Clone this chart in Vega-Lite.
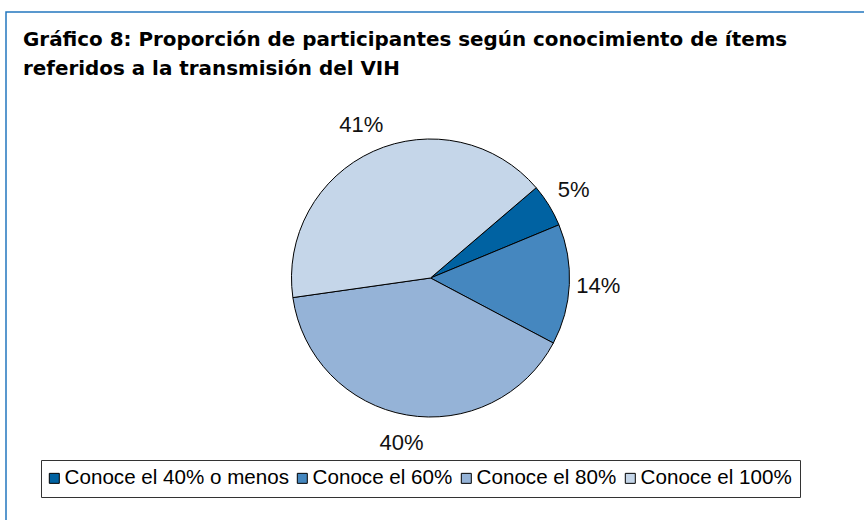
{
  "$schema": "https://vega.github.io/schema/vega-lite/v6.json",
  "width": 880,
  "height": 532,
  "autosize": {"type": "none"},
  "padding": {"left": 6, "top": 12, "right": 0, "bottom": 0},
  "background": "white",
  "title": {
    "text": ["Gráfico 8: Proporción de participantes según  conocimiento de ítems", "referidos a la transmisión del VIH"],
    "anchor": "start",
    "frame": "group",
    "orient": "top",
    "offset": -29,
    "baseline": "alphabetic",
    "dx": 17,
    "dy": 55,
    "font": "DejaVu Sans",
    "fontWeight": "bold",
    "fontSize": 19.9,
    "color": "#000000",
    "lineHeight": 29
  },
  "config": {"view": {"stroke": null}},
  "layer": [
    {
      "data": {"values": [{"marco": "borde"}]},
      "mark": {"type": "rect", "filled": false, "stroke": "#2377BE", "strokeWidth": 1.5},
      "encoding": {}
    },
    {
      "data": {
        "values": [
          {"categoria": "Conoce el 40% o menos", "porcentaje": 5, "etiqueta": "5%", "orden": 1},
          {"categoria": "Conoce el 60%", "porcentaje": 14, "etiqueta": "14%", "orden": 2},
          {"categoria": "Conoce el 80%", "porcentaje": 40, "etiqueta": "40%", "orden": 3},
          {"categoria": "Conoce el 100%", "porcentaje": 41, "etiqueta": "41%", "orden": 4}
        ]
      },
      "encoding": {
        "theta": {"field": "porcentaje", "type": "quantitative", "stack": true, "scale": {"range": [0.864, 7.147]}},
        "order": {"field": "orden", "type": "quantitative"}
      },
      "layer": [
        {
          "mark": {"type": "arc", "radius": 139, "stroke": "#000000", "strokeWidth": 1, "xOffset": -15.5},
          "encoding": {
            "color": {
              "field": "categoria",
              "type": "nominal",
              "sort": ["Conoce el 40% o menos", "Conoce el 60%", "Conoce el 80%", "Conoce el 100%"],
              "scale": {
                "domain": ["Conoce el 40% o menos", "Conoce el 60%", "Conoce el 80%", "Conoce el 100%"],
                "range": ["#0062A2", "#4587BF", "#95B3D7", "#C5D6E9"]
              },
              "legend": {
                "orient": "none",
                "legendX": 35,
                "legendY": 448,
                "direction": "horizontal",
                "columns": 4,
                "title": null,
                "strokeColor": "#333333",
                "fillColor": "white",
                "padding": 8,
                "symbolType": "square",
                "symbolSize": 100,
                "symbolStrokeColor": "#000000",
                "symbolStrokeWidth": 1,
                "symbolOpacity": 1,
                "symbolOffset": -5,
                "labelFont": "Liberation Sans",
                "labelFontSize": 20.6,
                "labelColor": "#000000",
                "labelOffset": 0,
                "columnPadding": 6,
                "labelLimit": 400
              }
            }
          }
        },
        {
          "mark": {"type": "text", "radius": 168, "xOffset": -15.5, "fontSize": 22, "font": "Liberation Sans", "color": "#111111", "align": "center", "baseline": "middle"},
          "encoding": {"text": {"field": "etiqueta"}}
        }
      ]
    }
  ]
}
